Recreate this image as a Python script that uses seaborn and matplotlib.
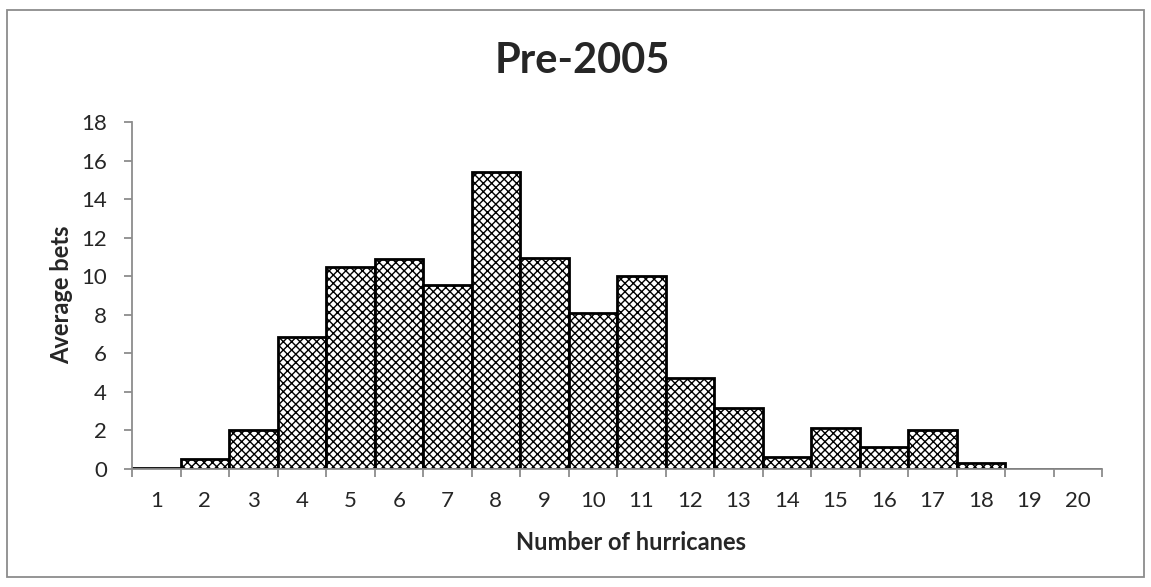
import matplotlib
matplotlib.use("Agg")
import matplotlib.pyplot as plt
import seaborn as sns
import pandas as pd
import numpy as np
from matplotlib.patches import Rectangle

# Average bets per number of hurricanes (pre-2005)
hurricanes = [str(i) for i in range(1, 21)]
avg_bets = [0.05, 0.5, 2.02, 6.87, 10.5, 10.9, 9.55, 15.4, 10.93, 8.08,
            10.03, 4.74, 3.18, 0.64, 2.11, 1.12, 2.02, 0.29, 0.02, 0.02]
y_ticks = list(range(0, 20, 2))

title = "Pre-2005"
x_label = "Number of hurricanes"
y_label = "Average bets"

sns.set_theme(style="white")
plt.rcParams["font.family"] = ["Lato", "DejaVu Sans"]
plt.rcParams["hatch.color"] = "black"
plt.rcParams["hatch.linewidth"] = 1.0

df = pd.DataFrame({"hurricanes": hurricanes, "bets": avg_bets})

W, H = 1151, 587
fig = plt.figure(figsize=(W / 100, H / 100), dpi=100)
ax = fig.add_axes([132 / W, 1 - 469 / H, 970 / W, 347 / H])

sns.barplot(data=df, x="hurricanes", y="bets", color="white",
            edgecolor="black", linewidth=2.0, width=1.0, saturation=1,
            ax=ax)
for p in ax.patches:
    p.set_facecolor("white")
    p.set_hatch("xxxx")

ax.set_xlim(-0.5, len(hurricanes) - 0.5)
ax.set_ylim(0, 18)
ax.set_yticks(y_ticks)
ax.set_yticklabels([str(t) for t in y_ticks])

axis_gray = "#8c8c8c"
for side in ("top", "right"):
    ax.spines[side].set_visible(False)
for side in ("left", "bottom"):
    ax.spines[side].set_color(axis_gray)
    ax.spines[side].set_linewidth(1.3)

# category labels centred, tick marks on the category boundaries
ax.set_xticks(np.arange(len(hurricanes)))
ax.set_xticklabels(hurricanes)
ax.set_xticks(np.arange(-0.5, len(hurricanes)), minor=True)
ax.tick_params(axis="x", which="major", length=0, pad=16, labelsize=16)
ax.tick_params(axis="x", which="minor", length=6, width=1.3, color=axis_gray,
               direction="out", bottom=True)
ax.tick_params(axis="y", which="major", length=6, width=1.3, color=axis_gray,
               direction="out", left=True, pad=12, labelsize=16)
ax.set_xlabel("")
ax.set_ylabel("")

fig.text(631 / W, 1 - 543 / H, x_label, ha="center", va="center",
         fontsize=17, fontweight="bold")
fig.text(62 / W, 1 - 295 / H, y_label, ha="center", va="center",
         rotation=90, fontsize=17, fontweight="bold")
fig.text(582 / W, 1 - 61 / H, title, ha="center", va="center",
         fontsize=30, fontweight="bold")

# chart frame
fig.patches.append(Rectangle((7 / W, 1 - 577 / H), 1137 / W, 567 / H,
                             transform=fig.transFigure, fill=False,
                             edgecolor="#8c8c8c", linewidth=1.3))

fig.savefig("out.png", dpi=100, facecolor="white")
